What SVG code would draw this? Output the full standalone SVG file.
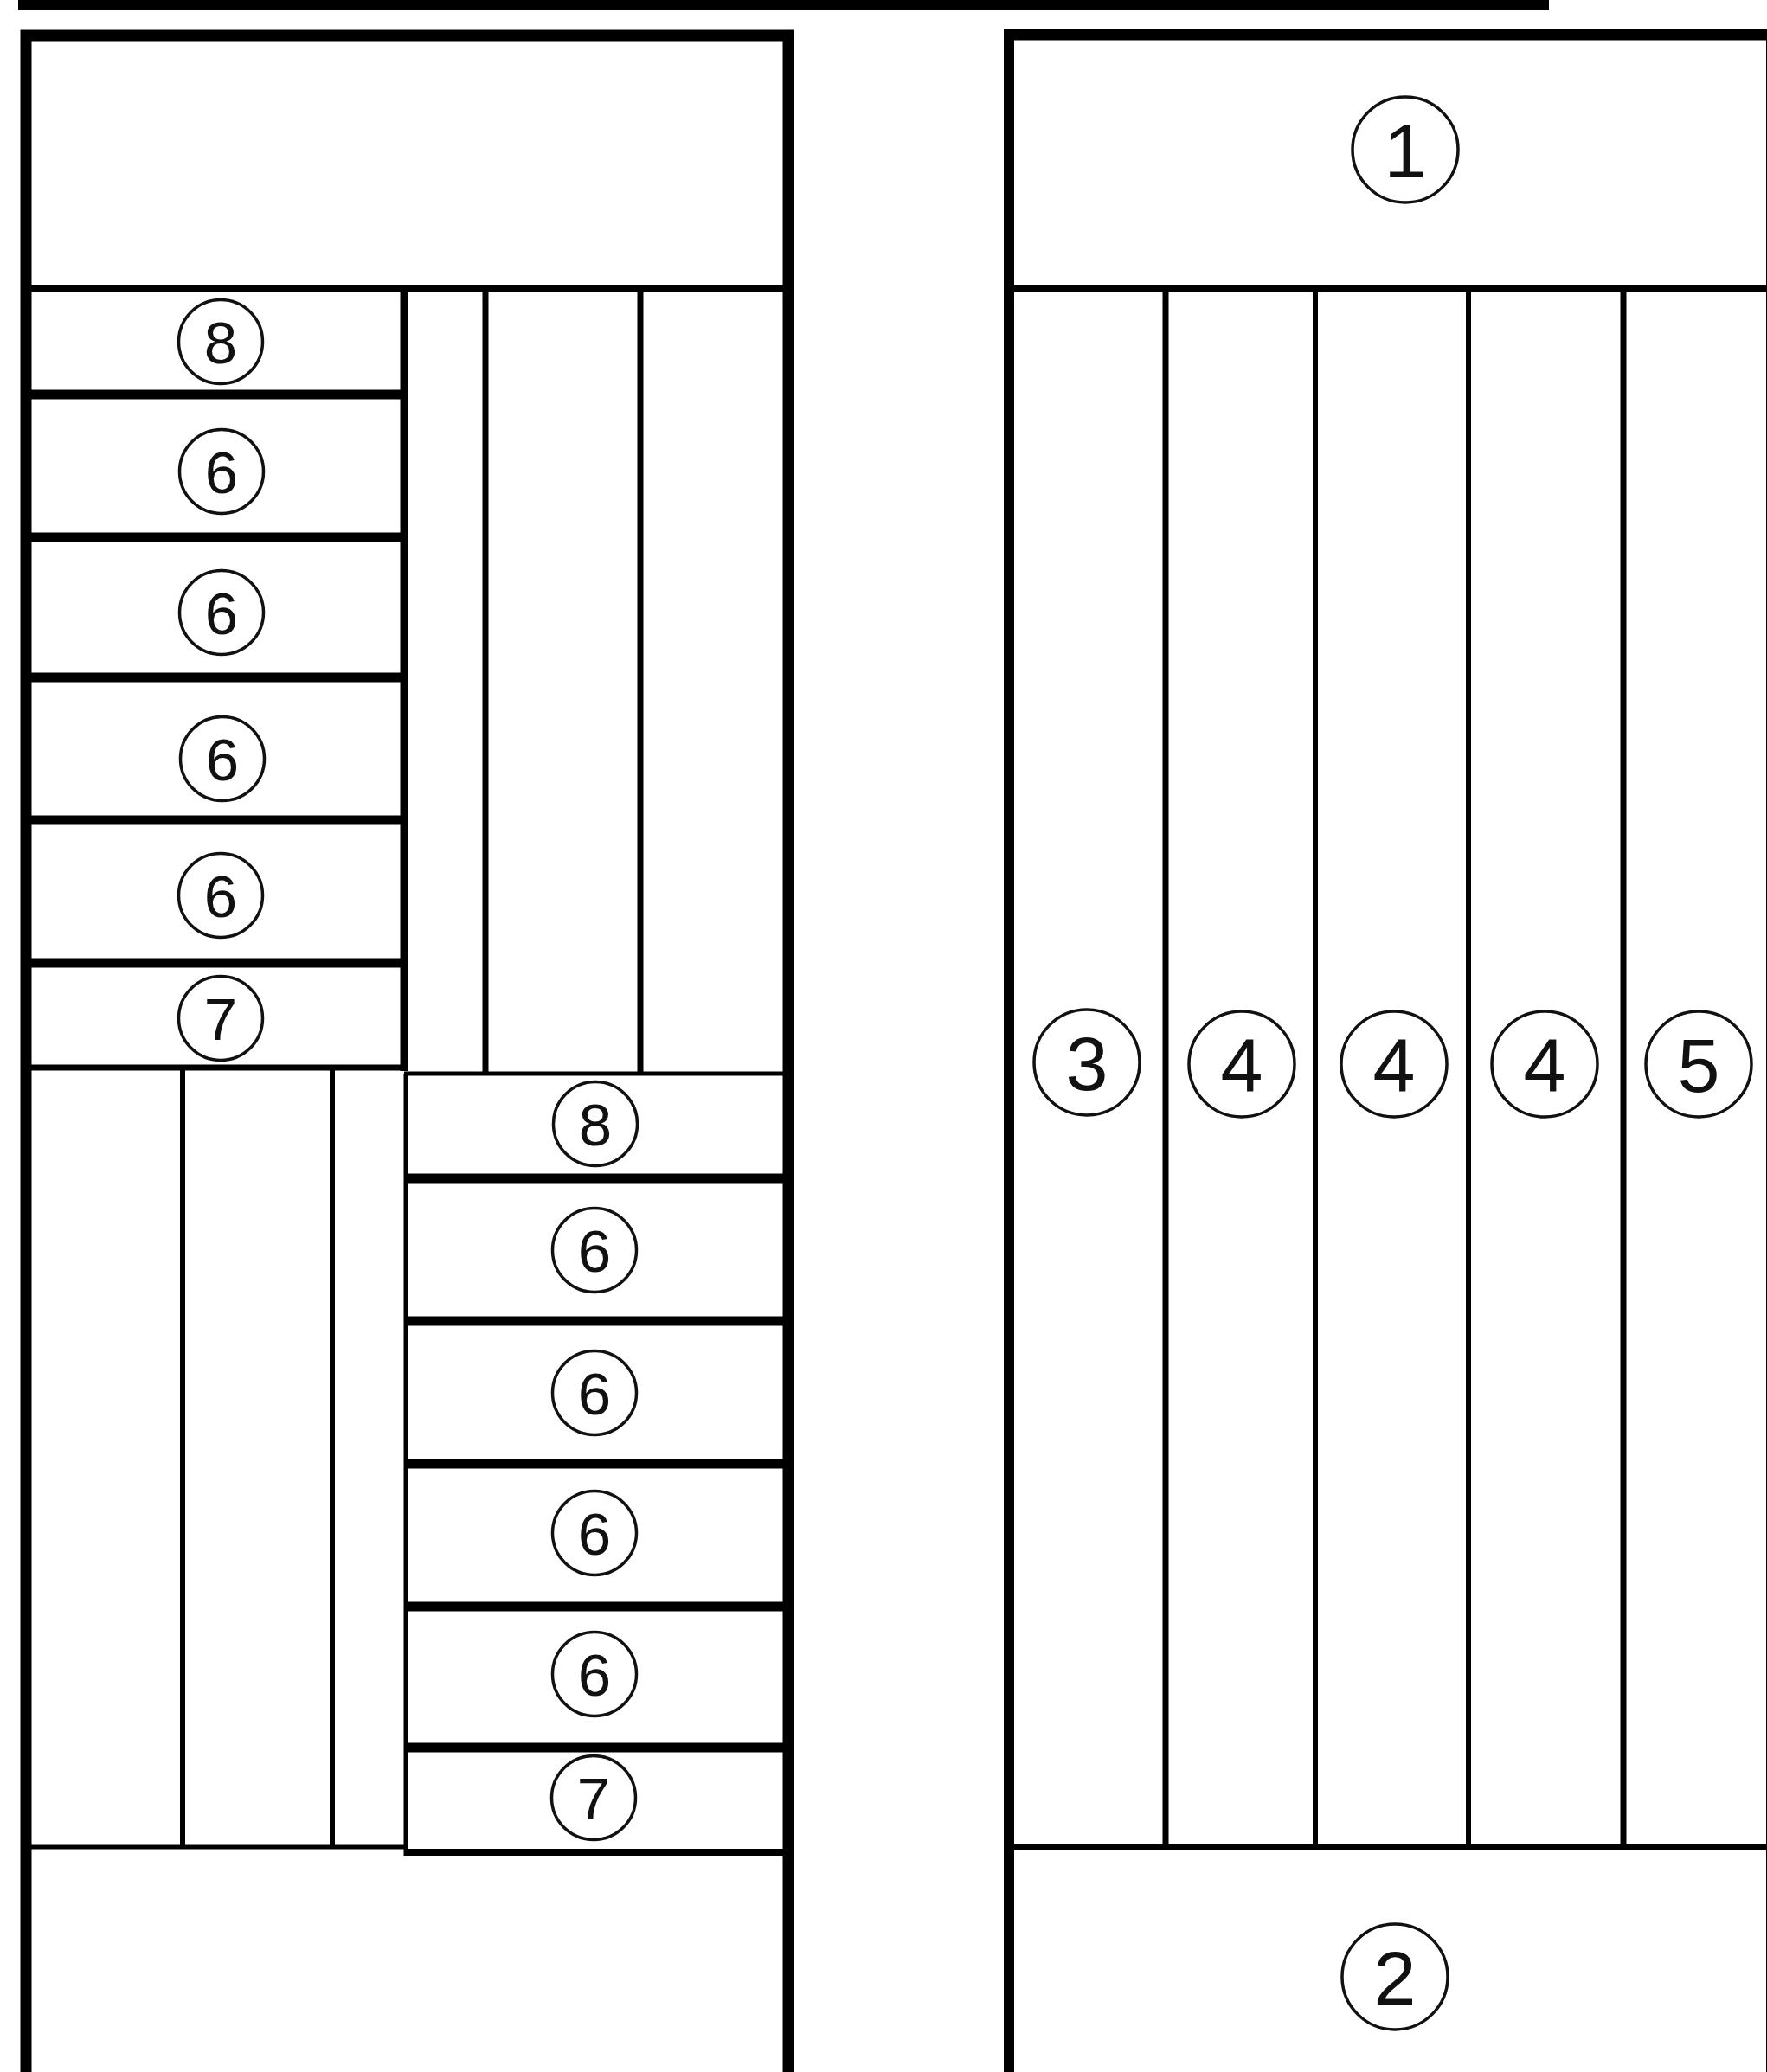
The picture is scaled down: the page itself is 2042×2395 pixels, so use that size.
<svg xmlns="http://www.w3.org/2000/svg" width="2042" height="2395" viewBox="0 0 2042 2395">
<style>
  .frame{fill:none;stroke:#000;stroke-width:13}
  .ln{stroke:#000;fill:none}
  .w5{stroke-width:5}
  .w6{stroke-width:6}
  .w7{stroke-width:7}
  .w8{stroke-width:8}
  .w9{stroke-width:9}
  .sh{stroke-width:11}
  .c{fill:#fff;stroke:#111;stroke-width:3.5}
  .t{font-family:"Liberation Sans",Arial,sans-serif;fill:#111;text-anchor:middle}
  .ts{font-size:69px}
  .tb{font-size:88px}
</style>
<rect x="0" y="0" width="2042" height="2395" fill="#fff"/>
<g id="topbar"><rect x="21" y="-5" width="1769" height="17" fill="#000"/></g>

<g id="left-cabinet">
  <rect class="frame" x="30" y="41" width="881" height="2420"/>
  <line class="ln w8" x1="30" y1="334" x2="911" y2="334"/>
  <line class="ln w9" x1="467" y1="334" x2="467" y2="1238"/>
  <line class="ln w7" x1="30" y1="1234" x2="467" y2="1234"/>
  <line class="ln w7" x1="561" y1="334" x2="561" y2="1241"/>
  <line class="ln w7" x1="740" y1="334" x2="740" y2="1241"/>
  <line class="ln w5" x1="467" y1="1241" x2="911" y2="1241"/>
  <line class="ln w5" x1="469" y1="1241" x2="469" y2="2145"/>
  <line class="ln w8" x1="469" y1="2141" x2="911" y2="2141"/>
  <line class="ln w6" x1="211" y1="1234" x2="211" y2="2135"/>
  <line class="ln w6" x1="384" y1="1234" x2="384" y2="2135"/>
  <line class="ln w5" x1="30" y1="2135" x2="469" y2="2135"/>
  <line class="ln sh" x1="30" y1="456" x2="467" y2="456"/>
  <line class="ln sh" x1="30" y1="621" x2="467" y2="621"/>
  <line class="ln sh" x1="30" y1="783" x2="467" y2="783"/>
  <line class="ln sh" x1="30" y1="948" x2="467" y2="948"/>
  <line class="ln sh" x1="30" y1="1113" x2="467" y2="1113"/>
  <line class="ln sh" x1="469" y1="1362" x2="911" y2="1362"/>
  <line class="ln sh" x1="469" y1="1527" x2="911" y2="1527"/>
  <line class="ln sh" x1="469" y1="1692" x2="911" y2="1692"/>
  <line class="ln sh" x1="469" y1="1857" x2="911" y2="1857"/>
  <line class="ln sh" x1="469" y1="2020" x2="911" y2="2020"/>
</g>

<g id="right-cabinet">
  <line class="ln" stroke-width="12" x1="1166" y1="34" x2="1166" y2="2400"/>
  <line class="ln" stroke-width="13" x1="1160" y1="40" x2="2060" y2="40"/>
  <line class="ln" stroke-width="12" x1="2047" y1="35" x2="2047" y2="2400"/>
  <line class="ln w8" x1="1166" y1="334" x2="2042" y2="334"/>
  <line class="ln w6" x1="1166" y1="2135" x2="2042" y2="2135"/>
  <line class="ln w7" x1="1347" y1="334" x2="1347" y2="2135"/>
  <line class="ln w6" x1="1520" y1="334" x2="1520" y2="2135"/>
  <line class="ln w6" x1="1697" y1="334" x2="1697" y2="2135"/>
  <line class="ln w7" x1="1876" y1="334" x2="1876" y2="2135"/>
</g>

<g id="n1"><circle class="c" cx="1624" cy="173" r="61"/><text class="t tb" x="1624" y="205">1</text></g>
<g id="n2"><circle class="c" cx="1612" cy="2285" r="61"/><text class="t tb" x="1612" y="2317">2</text></g>
<g id="n3"><circle class="c" cx="1256" cy="1228" r="61"/><text class="t tb" x="1256" y="1260">3</text></g>
<g id="n4a"><circle class="c" cx="1435" cy="1230" r="61"/><text class="t tb" x="1435" y="1262">4</text></g>
<g id="n4b"><circle class="c" cx="1611" cy="1230" r="61"/><text class="t tb" x="1611" y="1262">4</text></g>
<g id="n4c"><circle class="c" cx="1785" cy="1230" r="61"/><text class="t tb" x="1785" y="1262">4</text></g>
<g id="n5"><circle class="c" cx="1963" cy="1230" r="61"/><text class="t tb" x="1963" y="1262">5</text></g>

<g id="ul8"><circle class="c" cx="255" cy="395" r="48.5"/><text class="t ts" x="255" y="420">8</text></g>
<g id="ul6a"><circle class="c" cx="256" cy="545" r="48.5"/><text class="t ts" x="256" y="570">6</text></g>
<g id="ul6b"><circle class="c" cx="256" cy="708" r="48.5"/><text class="t ts" x="256" y="733">6</text></g>
<g id="ul6c"><circle class="c" cx="257" cy="877" r="48.5"/><text class="t ts" x="257" y="902">6</text></g>
<g id="ul6d"><circle class="c" cx="255" cy="1035" r="48.5"/><text class="t ts" x="255" y="1060">6</text></g>
<g id="ul7"><circle class="c" cx="255" cy="1177" r="48.5"/><text class="t ts" x="255" y="1202">7</text></g>

<g id="lr8"><circle class="c" cx="688" cy="1299" r="48.5"/><text class="t ts" x="688" y="1324">8</text></g>
<g id="lr6a"><circle class="c" cx="687" cy="1445" r="48.5"/><text class="t ts" x="687" y="1470">6</text></g>
<g id="lr6b"><circle class="c" cx="687" cy="1610" r="48.5"/><text class="t ts" x="687" y="1635">6</text></g>
<g id="lr6c"><circle class="c" cx="687" cy="1772" r="48.5"/><text class="t ts" x="687" y="1797">6</text></g>
<g id="lr6d"><circle class="c" cx="687" cy="1935" r="48.5"/><text class="t ts" x="687" y="1960">6</text></g>
<g id="lr7"><circle class="c" cx="686" cy="2078" r="48.5"/><text class="t ts" x="686" y="2103">7</text></g>
</svg>
